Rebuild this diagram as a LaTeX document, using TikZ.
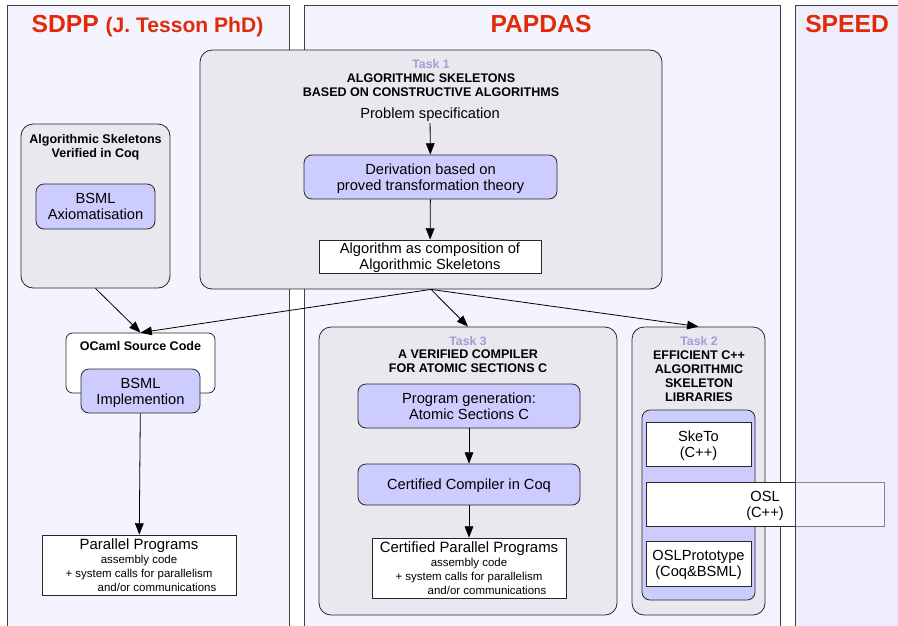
\documentclass[tikz,border=0pt]{standalone}
\usepackage{fontspec}
\setmainfont{Liberation Sans}
\usetikzlibrary{arrows.meta,fit,calc}

\definecolor{colbg}{HTML}{F4F4FE}
\definecolor{speedbase}{RGB}{243,243,249}
\definecolor{speedtop}{RGB}{233,233,253}
\definecolor{grayfill}{HTML}{E8E8EE}
\definecolor{purp}{HTML}{CCCCFF}
\definecolor{tasklbl}{HTML}{9E9ED8}
\definecolor{titlered}{HTML}{E02A0A}
\definecolor{frame}{HTML}{404040}

\newcommand{\smalltxtfont}{\fontsize{8.6}{10}\selectfont}
\newcommand{\bigtxtfont}{\fontsize{11.2}{12.5}\selectfont}

\tikzset{
  wh/.style 2 args={minimum width=#1*0.75pt, minimum height=#2*0.75pt},
  panel/.style={draw=frame, line width=0.7pt, fill=colbg, inner sep=0pt},
  group/.style={draw=black!85, line width=0.6pt, fill=grayfill, rounded corners=9pt, inner sep=0pt},
  pbox/.style={draw=black!85, line width=0.6pt, fill=purp, rounded corners=6pt, inner sep=0pt,
    align=center, font=\fontsize{11}{12}\selectfont, text depth=0pt},
  wbox/.style={draw=black!85, line width=0.6pt, fill=white, inner sep=0pt,
    align=center, font=\fontsize{11}{12}\selectfont, text depth=0pt},
  body/.style={font=\fontsize{11}{12}\selectfont, inner sep=1pt},
  hdr/.style={font=\bfseries\fontsize{9.4}{10.5}\selectfont, align=center, inner sep=0pt},
  tasktag/.style={text=tasklbl, font=\bfseries\fontsize{9.2}{10}\selectfont, inner sep=0pt},
  title/.style={text=titlered, font=\bfseries\fontsize{18.5}{20}\selectfont, inner sep=0pt},
  arr/.style={-{Triangle[length=8.5pt,width=6.5pt]}, line width=0.6pt, black}
}

\begin{document}
\begin{tikzpicture}[x=0.75pt,y=-0.75pt]
\useasboundingbox (0,0) rectangle (898,625);
\clip (0,0) rectangle (898,625);

% project columns
\node[panel, fit={(7,5)(289,640)}] (sdpp) {};
\node[panel, fit={(304,5)(780,640)}] (papdas) {};
\fill[speedbase] (795,5) rectangle (910,640);

% column titles
\node[title, anchor=base] (sdppT) at (147.5,32) {SDPP {\fontsize{15.8}{17}\selectfont(J. Tesson PhD)}};
\node[title, anchor=base] (papdasT) at (541,32) {PAPDAS};

% Task 1
\node[group, wh={462}{239}] (task1) at (431,169.5) {};
\node[tasktag] (t1tag) at (431,64) {Task 1};
\node[hdr] (t1hdr) at (431,85) {ALGORITHMIC SKELETONS\\BASED ON CONSTRUCTIVE ALGORITHMS};
\node[body] (spec) at (430,114.5) {Problem specification};
\node[pbox, wh={253}{44}] (deriv) at (430.5,177) {Derivation based on\\proved transformation theory};
\node[wbox, wh={222}{33}] (algo) at (430,256.5) {Algorithm as composition of\\Algorithmic Skeletons};
\draw[arr] (spec) -- (deriv);
\draw[arr] (deriv) -- (algo);

% skeletons verified in Coq
\node[group, wh={149}{164}] (coq) at (95.5,206) {};
\node[hdr] (coqhdr) at (95.5,147) {Algorithmic Skeletons\\Verified in Coq};
\node[pbox, wh={119}{45}] (bsmlax) at (95.5,206.5) {BSML\\Axiomatisation};

% OCaml source
\node[group, fill=white, rounded corners=5pt, wh={149}{60}] (ocaml) at (140.5,363) {};
\node[hdr] (ocamlhdr) at (140.5,346) {OCaml Source Code};
\node[pbox, wh={119}{44}] (bsmlimpl) at (140.5,391) {BSML\\Implemention};
\node[wbox, wh={194}{60}] (par) at (139,565) {{\bigtxtfont Parallel Programs}\\[-1pt]
  {\smalltxtfont assembly code}\\[-2pt]
  {\smalltxtfont + system calls for parallelism}\\[-1pt]
  {\smalltxtfont\hspace*{27pt}and/or communications}};

% Task 3
\node[group, wh={298}{288}] (task3) at (468,471) {};
\node[tasktag] (t3tag) at (468,341) {Task 3};
\node[hdr] (t3hdr) at (468,361) {A VERIFIED COMPILER\\FOR ATOMIC SECTIONS C};
\node[pbox, wh={222}{44}] (gen) at (469,406) {Program generation:\\Atomic Sections C};
\node[pbox, wh={222}{41}] (ccoq) at (469,484.5) {Certified Compiler in Coq};
\node[wbox, wh={194}{60}] (cpar) at (469,568) {{\bigtxtfont Certified Parallel Programs}\\[-1pt]
  {\smalltxtfont assembly code}\\[-2pt]
  {\smalltxtfont + system calls for parallelism}\\[-1pt]
  {\smalltxtfont\hspace*{27pt}and/or communications}};
\draw[arr] (gen) -- (ccoq);
\draw[arr] (ccoq) -- (cpar);

% Task 2
\node[group, wh={133}{288}] (task2) at (698.5,471) {};
\node[tasktag] (t2tag) at (699,341) {Task 2};
\node[hdr] (t2hdr) at (699,376) {EFFICIENT C++\\ALGORITHMIC\\SKELETON\\LIBRARIES};
\node[pbox, wh={113}{190}] (libs) at (698.5,505) {};
\node[wbox, wh={105}{44}] (sketo) at (698.5,444) {SkeTo\\(C++)};
\node[wbox, wh={238}{44}] (osl) at (765,504) {OSL\\(C++)};
\node[wbox, wh={105}{45}] (oslp) at (698.5,563.5) {OSLPrototype\\(Coq\&BSML)};

% connections between the work packages
\draw[arr] (coq.south) -- (ocaml.north);
\draw[arr] (task1.south) -- (ocaml.north);
\draw[arr] (task1.south) -- (task3.north);
\draw[arr] (task1.south) -- (task2.north);
\draw[arr] (bsmlimpl) -- (par);

% SPEED column, laid over the end of the OSL box
\draw[draw=frame, line width=0.7pt, fill=speedtop, fill opacity=0.5] (795,5) rectangle (910,640);
\node[title, anchor=base west] (speedT) at (805,32) {SPEED};
\end{tikzpicture}
\end{document}
